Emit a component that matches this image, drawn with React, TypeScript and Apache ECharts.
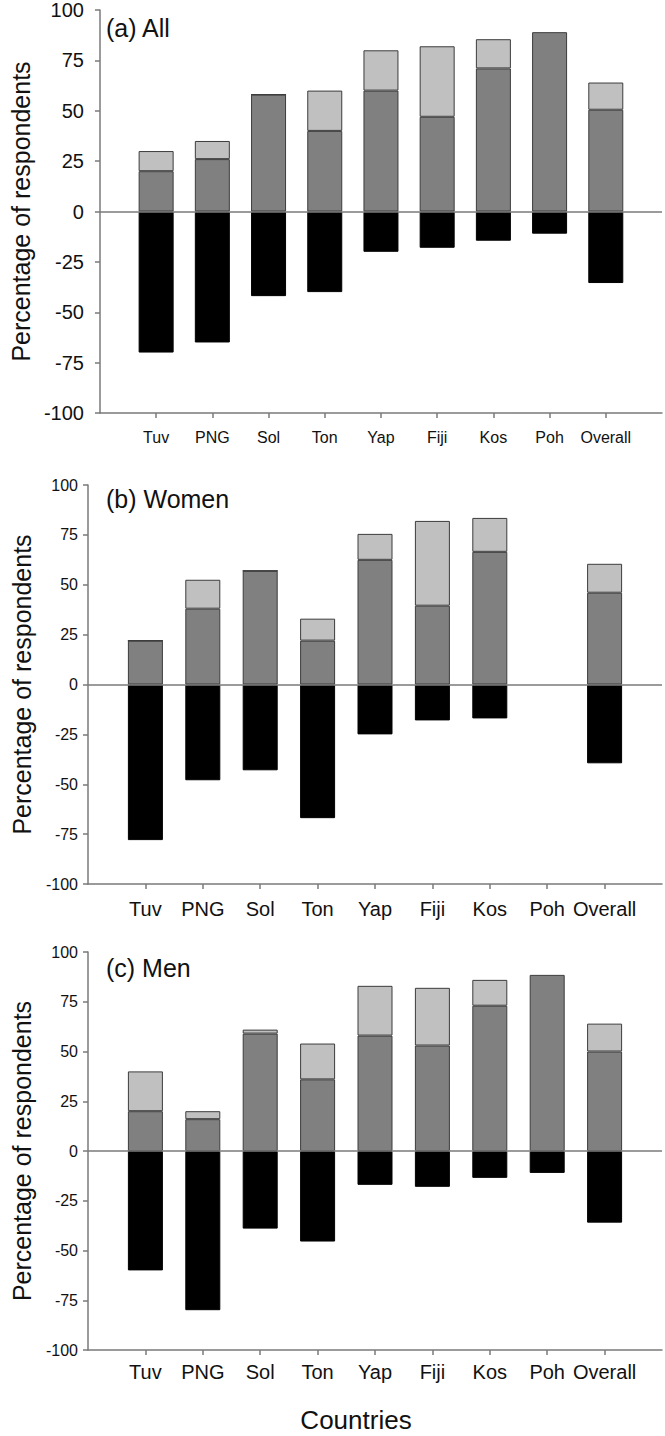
import React, { useEffect, useRef } from "react";
import * as echarts from "echarts";

const categories = ["Tuv", "PNG", "Sol", "Ton", "Yap", "Fiji", "Kos", "Poh", "Overall"];

// (a) All
const allMid = [20, 26, 58, 40, 60, 47, 71, 89, 50.5];
const allLight = [10, 9, 0, 20, 20, 35, 14.5, null, 13.5];
const allNeg = [-70, -65, -42, -40, -20, -18, -14.5, -11, -35.5];

// (b) Women
const womenMid = [22, 38, 57, 22, 62.5, 39.5, 66.5, null, 46];
const womenLight = [0, 14.5, 0, 11, 13, 42.5, 17, null, 14.5];
const womenNeg = [-78, -48, -43, -67, -25, -18, -17, null, -39.5];

// (c) Men
const menMid = [20, 16, 59, 36, 58, 53, 73, 88.5, 50];
const menLight = [20, 4, 2, 18, 25, 29, 13, null, 14];
const menNeg = [-60, -80, -39, -45.5, -17, -18, -13.5, -11, -36];

const panelTitles = ["(a) All", "(b) Women", "(c) Men"];
const yAxisTitle = "Percentage of respondents";
const xAxisTitle = "Countries";

const FONT = 'Arial, "Liberation Sans", sans-serif';
const AXIS_GRAY = "#7a7a7a";

const pad = (a: (number | null)[]) => [null, ...a, null];
const paddedCats = ["", ...categories, ""];

const panels = [
  { mid: allMid, light: allLight, neg: allNeg, top: 9, height: 404, yFont: 20, xFont: 16, yMargin: 16, xMargin: 16, nameGap: 57, titleY: 28 },
  { mid: womenMid, light: womenLight, neg: womenNeg, top: 485, height: 399, yFont: 16, xFont: 20, yMargin: 10, xMargin: 15, nameGap: 54, titleY: 499 },
  { mid: menMid, light: menLight, neg: menNeg, top: 952, height: 398, yFont: 16, xFont: 20, yMargin: 10, xMargin: 12, nameGap: 54, titleY: 968 },
];

export default function App() {
  const ref = useRef<HTMLDivElement>(null);
  useEffect(() => {
    document.body.style.margin = "0";
    const chart = echarts.init(ref.current!, null, { renderer: "svg" });
    const grid: any[] = [];
    const xAxis: any[] = [];
    const yAxis: any[] = [];
    const series: any[] = [];
    const graphic: any[] = [];
    panels.forEach((p, i) => {
      grid.push({ left: 88, width: 574, top: p.top, height: p.height });
      xAxis.push({
        type: "category",
        gridIndex: i,
        data: paddedCats,
        boundaryGap: false,
        axisLine: { onZero: false, lineStyle: { color: AXIS_GRAY, width: 1.5 } },
        axisTick: {
          show: true,
          length: 5,
          interval: (idx: number) => idx > 0 && idx < paddedCats.length - 1,
          lineStyle: { color: AXIS_GRAY, width: 1.5 },
        },
        axisLabel: { interval: 0, fontSize: p.xFont, fontFamily: FONT, color: "#111", margin: p.xMargin },
        splitLine: { show: false },
      });
      yAxis.push({
        type: "value",
        gridIndex: i,
        min: -100,
        max: 100,
        interval: 25,
        axisLine: { show: true, lineStyle: { color: AXIS_GRAY, width: 1.5 } },
        axisTick: { show: true, length: 5, lineStyle: { color: AXIS_GRAY, width: 1.5 } },
        axisLabel: { fontSize: p.yFont, fontFamily: FONT, color: "#111", margin: p.yMargin },
        splitLine: { show: false },
        name: yAxisTitle,
        nameLocation: "middle",
        nameGap: p.nameGap,
        nameTextStyle: { fontSize: 25, fontFamily: FONT, color: "#111" },
      });
      const common = {
        type: "bar",
        xAxisIndex: i,
        yAxisIndex: i,
        stack: "s" + i,
        barWidth: 35,
      };
      series.push({
        ...common,
        name: "mid",
        data: pad(p.mid),
        itemStyle: { color: "#808080", borderColor: "#3c3c3c", borderWidth: 1 },
        markLine: {
          silent: true,
          symbol: ["none", "none"],
          label: { show: false },
          lineStyle: { color: AXIS_GRAY, width: 1.5, type: "solid" },
          data: [{ yAxis: 0 }],
        },
      });
      series.push({
        ...common,
        name: "light",
        data: pad(p.light),
        itemStyle: { color: "#c0c0c0", borderColor: "#3c3c3c", borderWidth: 1 },
      });
      series.push({
        ...common,
        name: "neg",
        data: pad(p.neg),
        itemStyle: { color: "#000000", borderColor: "#000000", borderWidth: 1 },
      });
      graphic.push({
        type: "text",
        x: 106,
        y: p.titleY,
        style: { text: panelTitles[i], fontSize: 25, fontFamily: FONT, fill: "#111", textAlign: "left", textVerticalAlign: "middle" },
      });
    });
    graphic.push({
      type: "text",
      x: 356,
      y: 1420,
      style: { text: xAxisTitle, fontSize: 26, fontFamily: FONT, fill: "#111", textAlign: "center", textVerticalAlign: "middle" },
    });
    chart.setOption({
      animation: false,
      backgroundColor: "#ffffff",
      grid,
      xAxis,
      yAxis,
      series,
      graphic,
    });
    return () => chart.dispose();
  }, []);
  return <div ref={ref} style={{ width: 665, height: 1436 }} />;
}
